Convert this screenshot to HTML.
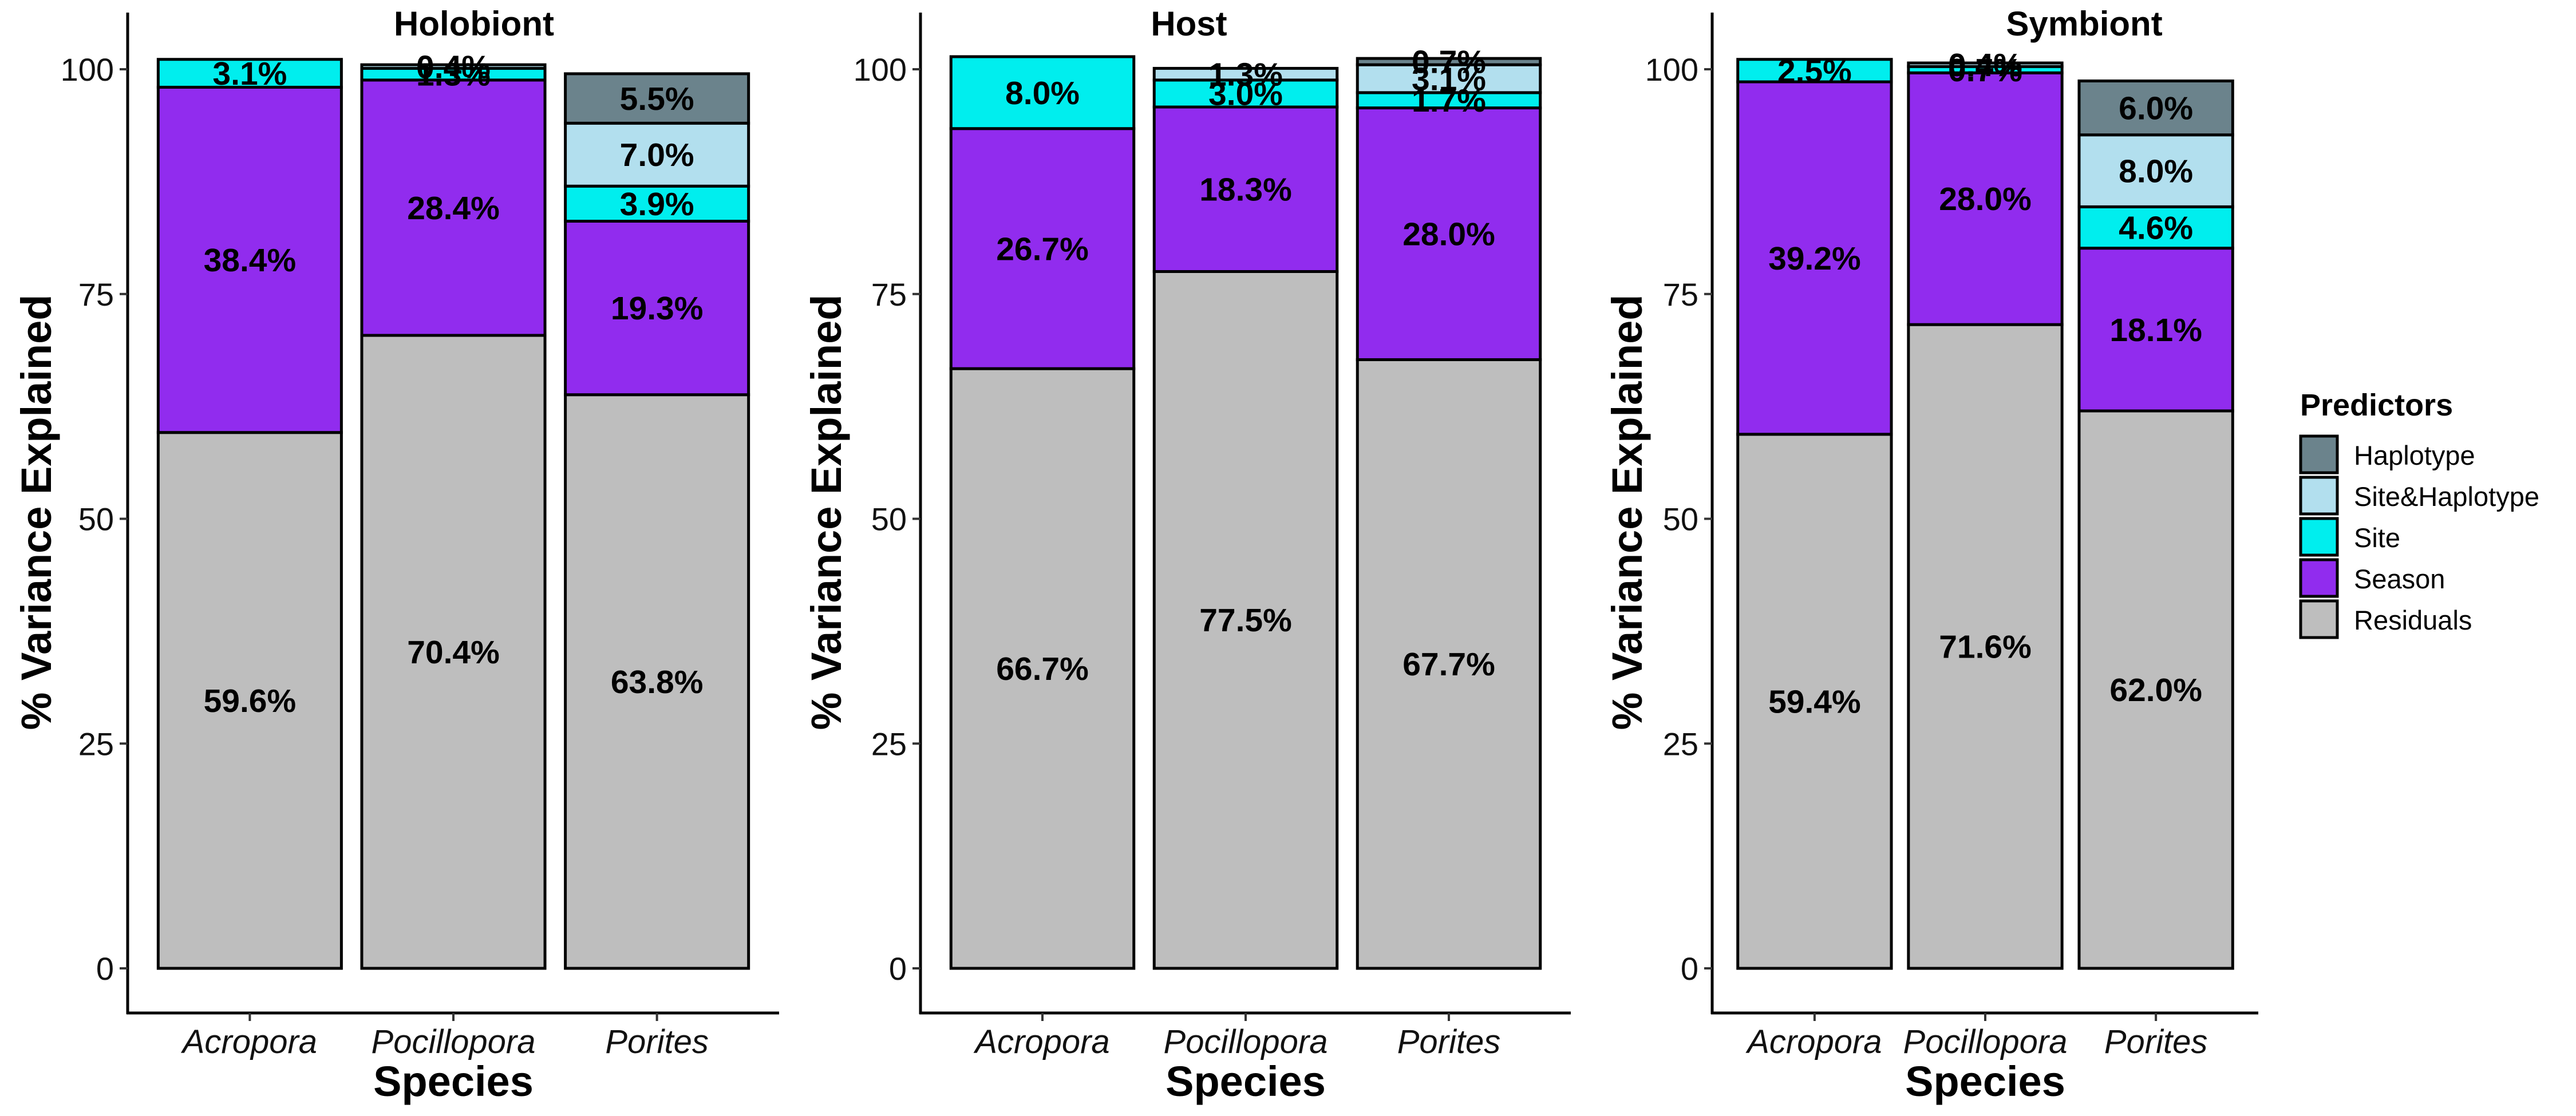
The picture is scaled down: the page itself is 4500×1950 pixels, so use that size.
<!DOCTYPE html>
<html><head><meta charset="utf-8"><style>
html,body{margin:0;padding:0;background:#fff}
svg{display:block;font-family:"Liberation Sans",sans-serif}
</style></head><body>
<svg id="chart" width="4500" height="1950" viewBox="0 0 4500 1950" xmlns="http://www.w3.org/2000/svg"></svg>
<script>
const categories = ["Acropora","Pocillopora","Porites"];
const predictors = ["Residuals","Season","Site","Site&Haplotype","Haplotype"];
const panelTitles = ["Holobiont","Host","Symbiont"];
const yTicks = [0,25,50,75,100];
// values per panel: [category][predictor] bottom->top
const holobiont = [[59.6,38.4,3.1,0,0],[70.4,28.4,1.3,0.4,0],[63.8,19.3,3.9,7.0,5.5]];
const host = [[66.7,26.7,8.0,0,0],[77.5,18.3,3.0,1.3,0],[67.7,28.0,1.7,3.1,0.7]];
const symbiont = [[59.4,39.2,2.5,0,0],[71.6,28.0,0.7,0.4,0],[62.0,18.1,4.6,8.0,6.0]];
const panelData = [holobiont, host, symbiont];

const colors = {"Residuals":"#bebebe","Season":"#912cee","Site":"#00eeee","Site&Haplotype":"#b2dfee","Haplotype":"#6b838c"};
const panels = [
  {x0:223,x1:1361,titleX:828,ytX:63},
  {x0:1608,x1:2744,titleX:2077,ytX:1443},
  {x0:2991,x1:3945,titleX:3641,ytX:2842}
];
const Y0=1692, Y100=121, axisY=1770, axisTop=22;
const NS="http://www.w3.org/2000/svg";
const svg=document.getElementById('chart');
function el(tag,attrs,parent){const e=document.createElementNS(NS,tag);for(const k in attrs)e.setAttribute(k,attrs[k]);(parent||svg).appendChild(e);return e;}
function yScale(v){return Y0-(Y0-Y100)*v/100;}

panels.forEach((p,pi)=>{
  const g=el('g',{});
  
  
  const unit=(p.x1-p.x0)/3.2;
  const xC=i=>p.x0+unit*(0.6+i);
  panelData[pi].forEach((vals,ci)=>{
    let cum=0;
    vals.forEach((v,k)=>{
      if(v<=0){return;}
      const yt=yScale(cum+v), yb=yScale(cum);
      const r=el('rect',{x:xC(ci)-unit*0.45,y:yt,width:unit*0.9,height:yb-yt,fill:colors[predictors[k]],stroke:'#000','stroke-width':5},g);
      
      
      cum+=v;
    });
    cum=0;
    vals.forEach((v,k)=>{
      if(v<=0){return;}
      const t=el('text',{x:xC(ci),y:yScale(cum+v/2)+20,'text-anchor':'middle','font-size':57,'font-weight':'bold'},g);
      t.textContent=v.toFixed(1)+'%';
      
      
      cum+=v;
    });
  });
  const ya=el('line',{x1:p.x0,y1:axisTop,x2:p.x0,y2:axisY+2,stroke:'#000','stroke-width':5},g);
  
  
  const xa=el('line',{x1:p.x0-2,y1:axisY,x2:p.x1,y2:axisY,stroke:'#000','stroke-width':5},g);
  
  
  yTicks.forEach(t=>{
    const y=yScale(t);
    el('line',{x1:p.x0-14,y1:y,x2:p.x0,y2:y,stroke:'#333','stroke-width':4},g);
    const tx=el('text',{x:p.x0-24,y:y+20,'text-anchor':'end','font-size':56,fill:'#111'},g);
    tx.textContent=t;
    
    
  });
  categories.forEach((c,ci)=>{
    el('line',{x1:xC(ci),y1:axisY,x2:xC(ci),y2:axisY+14,stroke:'#333','stroke-width':4},g);
    const tx=el('text',{x:xC(ci),y:1840,'text-anchor':'middle','font-size':58,'font-style':'italic',fill:'#111'},g);
    tx.textContent=c;
    
    
  });
  const xt=el('text',{x:(p.x0+p.x1)/2,y:1915,'text-anchor':'middle','font-size':74,'font-weight':'bold'},g);
  xt.textContent='Species';
  
  
  const yt=el('text',{x:0,y:0,'text-anchor':'middle','font-size':74,'font-weight':'bold',transform:`translate(${p.ytX+26},895) rotate(-90)`},g);
  yt.textContent='% Variance Explained';
  
  
  const tt=el('text',{x:p.titleX,y:62,'text-anchor':'middle','font-size':60,'font-weight':'bold'},g);
  tt.textContent=panelTitles[pi];
  
  
});

const lg=el('g',{});


const lt=el('text',{x:4018,y:726,'font-size':54,'font-weight':'bold'},lg);
lt.textContent='Predictors';


const legendOrder=["Haplotype","Site&Haplotype","Site","Season","Residuals"];
legendOrder.forEach((n,i)=>{
  const y=762+i*72;
  const r=el('rect',{x:4019,y:y,width:64,height:64,fill:colors[n],stroke:'#000','stroke-width':5},lg);
  
  
  const t=el('text',{x:4112,y:y+50,'font-size':47},lg);
  t.textContent=n;
  
  
});
</script>
</body></html>
